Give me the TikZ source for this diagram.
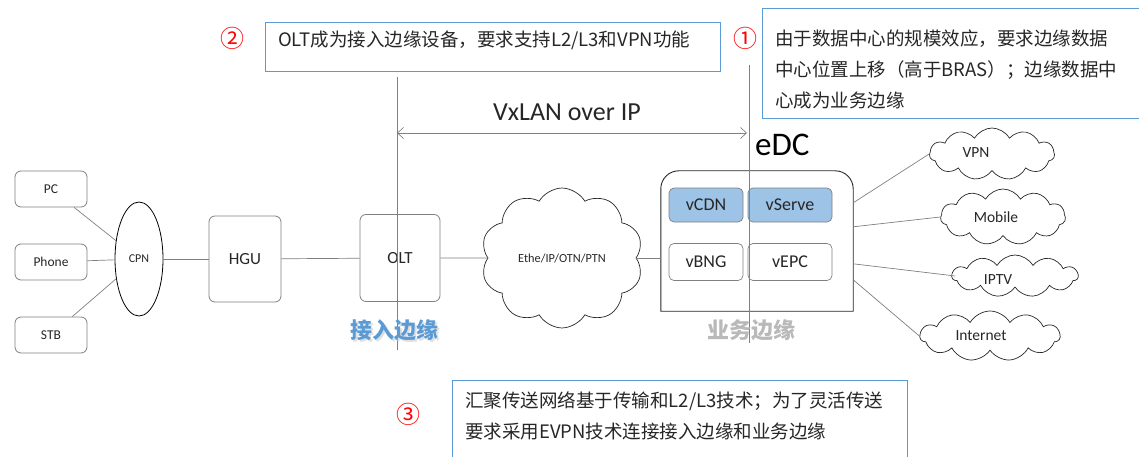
\documentclass[tikz,border=0pt]{standalone}
\usepackage{fontspec}
\setmainfont{Carlito}
\newfontfamily\cjk{Noto Sans CJK SC}
\usetikzlibrary{shapes.geometric,shapes.symbols,arrows.meta}
\definecolor{linegray}{HTML}{808080}
\definecolor{noteblue}{HTML}{5B9BD5}
\definecolor{vfill}{HTML}{9DC3E6}
\definecolor{txt}{HTML}{262626}
\tikzset{
  dev/.style={draw=linegray, rounded corners=6pt, line width=0.8pt, text=txt, inner sep=0pt},
  vnf/.style={draw=linegray, rounded corners=5pt, line width=0.7pt, minimum width=74pt, minimum height=34pt, font=\fontsize{18}{18}\selectfont, text=txt},
  cloudy/.style={cloud, cloud puffs=11, cloud puff arc=120, draw=txt, line width=0.7pt, text=txt, inner sep=0pt},
  cloudtxt/.style={font=\fontsize{15.5}{15}\selectfont, text=txt},
  link/.style={draw=linegray, line width=0.7pt},
  note/.style={draw=noteblue, line width=0.8pt},
  notetxt/.style={font=\cjk\fontsize{18.5}{31}\selectfont, text=txt, align=left, anchor=west, inner sep=0pt},
  num/.style={font=\cjk\fontsize{24}{24}\selectfont, text=red},
  edgelbl/.style={font=\cjk\bfseries\fontsize{22}{22}\selectfont},
}
\begin{document}
\begin{tikzpicture}[x=1pt,y=-1pt]
\useasboundingbox (0,0) rectangle (1139,457);

% end devices and home network
\node[dev, minimum width=72pt, minimum height=36pt, font=\fontsize{13.5}{13}\selectfont] (pc) at (51,189) {PC};
\node[dev, minimum width=72pt, minimum height=36pt, font=\fontsize{13.5}{13}\selectfont] (phone) at (51,262) {Phone};
\node[dev, minimum width=72pt, minimum height=36pt, font=\fontsize{13.5}{13}\selectfont] (stb) at (51,335) {STB};
\node[ellipse, draw=black, line width=0.8pt, minimum width=48pt, minimum height=114pt, inner sep=0pt, font=\fontsize{12}{12}\selectfont, text=txt] (cpn) at (139,259) {CPN};
\node[dev, minimum width=72pt, minimum height=86pt, font=\fontsize{17}{17}\selectfont] (hgu) at (245,259) {HGU};
\node[dev, minimum width=80pt, minimum height=87pt, font=\fontsize{17}{17}\selectfont] (olt) at (400,258) {OLT};

% transport cloud
\node[cloudy, cloud puffs=10, minimum width=162pt, minimum height=88pt, font=\fontsize{12.3}{12}\selectfont] (trans) at (562,258) {Ethe/IP/OTN/PTN};

% edge data centre
\node[minimum width=192pt, minimum height=140pt, inner sep=0pt] (edc) at (757,241) {};
\draw[line width=0.9pt, draw=txt] (edc.south west) [rounded corners=18pt] -- (edc.north west) -- (edc.north east) [sharp corners] -- (edc.south east) -- cycle;
\node[font=\fontsize{33}{33}\selectfont, text=black, anchor=west, inner sep=0pt] (edclbl) at (755,145) {eDC};
\node[vnf, fill=vfill] (vcdn) at (706,205) {vCDN};
\node[vnf, fill=vfill, minimum width=84pt] (vserve) at (790,205) {vServe};
\node[vnf, minimum height=37pt] (vbng) at (706,262) {vBNG};
\node[vnf, minimum width=84pt, minimum height=37pt] (vepc) at (790,262) {vEPC};

% service clouds
\node[cloudy, minimum width=125pt, minimum height=52pt] (vpn) at (992,154) {};
\node[cloudy, minimum width=125pt, minimum height=56pt] (mobile) at (1003,217) {};
\node[cloudy, minimum width=126pt, minimum height=42pt] (iptv) at (1015,276) {};
\node[cloudy, minimum width=140pt, minimum height=50pt] (internet) at (990,336) {};
\node[cloudtxt] (vpnt) at (976,153) {VPN};
\node[cloudtxt] (mobilet) at (996,217) {Mobile};
\node[cloudtxt] (iptvt) at (998,280) {IPTV};
\node[cloudtxt] (internett) at (981,336) {Internet};

% links
\draw[link] (pc) -- (cpn);
\draw[link] (phone) -- (cpn);
\draw[link] (stb) -- (cpn);
\draw[link] (cpn) -- (hgu);
\draw[link] (hgu) -- (olt);
\draw[link] (olt.east) -- (trans.west);
\draw[link] (trans.east) -- (edc.west |- trans.east);
\coordinate (p1) at ([yshift=-32pt]edc.north east);
\coordinate (p2) at ([yshift=-56pt]edc.north east);
\coordinate (p3) at ([yshift=-93pt]edc.north east);
\coordinate (p4) at ([yshift=-109pt]edc.north east);
\draw[link] (p1) -- (vpn.west);
\draw[link] (p2) -- (mobile.west);
\draw[link] (p3) -- ([xshift=4pt]iptv.west);
\draw[link] (p4) -- (internet.west);

% edge markers
\coordinate (a1) at (397,77);
\coordinate (a2) at (397,350);
\coordinate (b1) at (749,65);
\coordinate (b2) at (749,343);
\draw[link, line width=0.9pt] (a1) -- (a2);
\draw[link, line width=0.9pt] (b1) -- (b2);
\coordinate (v1) at (397,133);
\coordinate (v2) at (747,133);
\draw[link, {Straight Barb[length=6pt,width=11pt]}-{Straight Barb[length=6pt,width=11pt]}] (v1) -- (v2);
\node[font=\fontsize{26}{26}\selectfont, text=txt] (vx) at (567,112) {VxLAN over IP};

\node[edgelbl, text=gray!40, opacity=0.6] at (396,332) {接入边缘};
\node[edgelbl, text=noteblue] (acc) at (394,330) {接入边缘};
\node[edgelbl, text=gray!55] (svc) at (751,330) {业务边缘};

% notes
\node[note, minimum width=455pt, minimum height=49pt, inner sep=0pt] (n2) at (492.5,46.5) {};
\node[notetxt] (n2t) at (278,40) {OLT成为接入边缘设备，要求支持L2/L3和VPN功能};
\node[num] (c2) at (232,38) {②};

\node[note, minimum width=390pt, minimum height=110pt, inner sep=0pt] (n1) at (957,63) {};
\node[notetxt] (n1t) at (775,69) {由于数据中心的规模效应，要求边缘数据\\中心位置上移（高于BRAS）；边缘数据中\\心成为业务边缘};
\node[num] (c1) at (745,38) {①};

\node[note, minimum width=455pt, minimum height=100pt, inner sep=0pt] (n3) at (679.5,430) {};
\node[notetxt, anchor=north west] (n3t) at (465,392) {汇聚传送网络基于传输和L2/L3技术；为了灵活传送\\要求采用EVPN技术连接接入边缘和业务边缘};
\node[num] (c3) at (408,414) {③};
\end{tikzpicture}
\end{document}
